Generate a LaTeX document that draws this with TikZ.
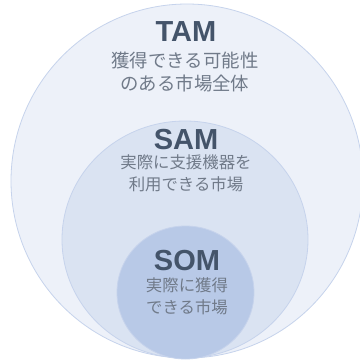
\documentclass[tikz,border=0pt]{standalone}
\usepackage{fontspec}
\setmainfont{Liberation Sans}
\newfontfamily\jpfont{Noto Sans CJK JP}
\definecolor{tamfill}{HTML}{EDF1F9}
\definecolor{samfill}{HTML}{DAE3F2}
\definecolor{somfill}{HTML}{B8C9E7}
\definecolor{edgeblue}{HTML}{C6D3EC}
\definecolor{titlecol}{HTML}{44546A}
\definecolor{subcol}{HTML}{707A89}
\begin{document}
\begin{tikzpicture}[x=1pt,y=-1pt,
  zone/.style={draw=edgeblue,line width=0.8pt},
  title/.style={font=\fontsize{29}{29}\selectfont\bfseries,text=titlecol,inner sep=0pt,anchor=base},
  desc/.style={text=subcol,inner sep=0pt,align=center,anchor=center}]
\useasboundingbox (0,0) rectangle (360,360);
\clip (0,0) rectangle (360,360);
\fill[white] (0,0) rectangle (360,360);
\path[zone,fill=tamfill] (187,181) ellipse [x radius=176, y radius=177];
\path[zone,fill=samfill] (185,239.5) ellipse [x radius=123, y radius=118.5];
\path[zone,fill=somfill] (185.5,292.5) ellipse [x radius=68.5, y radius=66.5];
\node[title] (tam) at (186,41) {TAM};
\node[desc,font=\jpfont\fontsize{18.4}{23}\selectfont] (tamd) at (185,72.5) {獲得できる可能性\\のある市場全体};
\node[title] (sam) at (186,149) {SAM};
\node[desc,font=\jpfont\fontsize{16.4}{22}\selectfont] (samd) at (186,173) {実際に支援機器を\\利用できる市場};
\node[title] (som) at (187,270) {SOM};
\node[desc,font=\jpfont\fontsize{16.4}{22}\selectfont] (somd) at (187,296) {実際に獲得\\できる市場};
\end{tikzpicture}
\end{document}
